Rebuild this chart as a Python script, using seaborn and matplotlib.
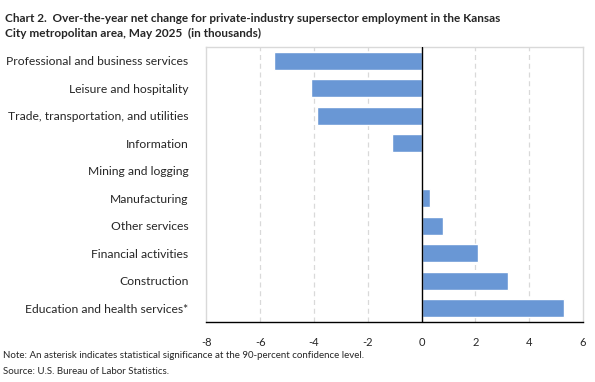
import matplotlib
matplotlib.use("Agg")
import matplotlib.pyplot as plt
import seaborn as sns
import pandas as pd

# Data (thousands)
industries = [
    "Professional and business services",
    "Leisure and hospitality",
    "Trade, transportation, and utilities",
    "Information",
    "Mining and logging",
    "Manufacturing",
    "Other services",
    "Financial activities",
    "Construction",
    "Education and health services*",
]
net_change = [-5.5, -4.1, -3.9, -1.1, 0.0, 0.3, 0.8, 2.1, 3.2, 5.3]
x_ticks = [-8, -6, -4, -2, 0, 2, 4, 6]

df = pd.DataFrame({"industry": industries, "change": net_change})

sns.set_style("white")
plt.rcParams["font.family"] = ["Lato", "DejaVu Sans"]

fig = plt.figure(figsize=(5.95, 3.82), dpi=100)
ax = fig.add_axes([0.347, 0.157, 0.633, 0.72])

sns.barplot(data=df, x="change", y="industry", orient="h", color="#6997d5",
            width=0.66, saturation=1, ax=ax)

ax.set_xlim(-8, 6)
ax.set_xticks(x_ticks)
ax.set_xticklabels([str(t) for t in x_ticks], fontsize=8)
ax.set_xlabel("")
ax.set_ylabel("")

# gridlines (dashed) and zero line
for t in x_ticks[1:-1]:
    if t == 0:
        continue
    ax.axvline(t, color="#d9d9d9", linestyle=(0, (4, 3)), linewidth=0.9, zorder=0)
ax.axvline(0, color="black", linewidth=1.0, zorder=3)

# plot-area border
for side in ["top", "left", "right"]:
    ax.spines[side].set_color("#d9d9d9")
    ax.spines[side].set_linewidth(1.0)
ax.spines["bottom"].set_color("black")
ax.spines["bottom"].set_linewidth(1.0)

ax.tick_params(axis="x", direction="out", length=5, width=1, color="black", pad=6)
ax.tick_params(axis="y", length=0, pad=13, labelsize=8.7)

fig.text(0.008, 0.965, "Chart 2.  Over-the-year net change for private-industry supersector employment in the Kansas\n"
         "City metropolitan area, May 2025  (in thousands)",
         fontsize=8.5, fontweight="bold", va="top", ha="left", linespacing=1.45)

fig.text(0.005, 0.07, "Note: An asterisk indicates statistical significance at the 90-percent confidence level.",
         fontsize=7, va="center", ha="left")
fig.text(0.005, 0.028, "Source: U.S. Bureau of Labor Statistics.",
         fontsize=7, va="center", ha="left")

fig.savefig("out.png", dpi=100)
